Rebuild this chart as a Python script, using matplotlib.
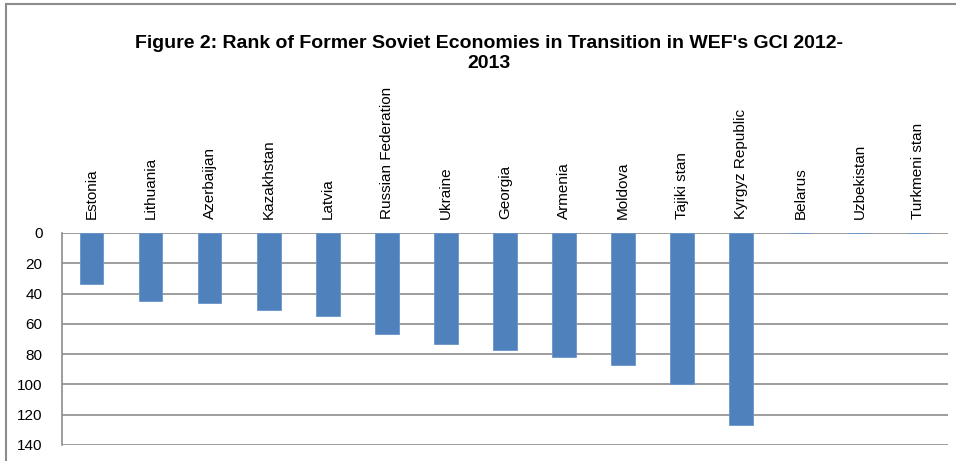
import numpy as np
import matplotlib.pyplot as plt
import matplotlib as mpl
from matplotlib.lines import Line2D

mpl.rcParams["font.family"] = ["Liberation Sans", "DejaVu Sans"]

# data
countries = ["Estonia", "Lithuania", "Azerbaijan", "Kazakhstan", "Latvia",
             "Russian Federation", "Ukraine", "Georgia", "Armenia", "Moldova",
             "Tajiki stan", "Kyrgyz Republic", "Belarus", "Uzbekistan", "Turkmeni stan"]
ranks = [34, 45, 46, 51, 55, 67, 73, 77, 82, 87, 100, 127, 0, 0, 0]

fig = plt.figure(figsize=(9.56, 4.61), dpi=100)
ax = fig.add_axes([62 / 956, 1 - 445 / 461, 886 / 956, 212 / 461])

x = np.arange(len(countries))
ax.bar(x, ranks, width=0.4, color="#4F81BD", edgecolor="#6A96CB", linewidth=0.6, zorder=3)

ax.set_xlim(-0.5, len(countries) - 0.5)
ax.set_ylim(140, 0)
ax.set_yticks(np.arange(0, 141, 20))
ax.yaxis.grid(True, color="#8c8c8c", linewidth=1.2, zorder=0)
ax.tick_params(axis="y", length=0, pad=14, labelsize=11)

ax.xaxis.tick_top()
ax.set_xticks(x)
ax.set_xticklabels(countries, rotation=90, fontsize=11)
ax.tick_params(axis="x", length=0, pad=10)

for s in ["top", "right", "bottom"]:
    ax.spines[s].set_visible(False)
ax.spines["left"].set_color("#8c8c8c")
ax.spines["left"].set_linewidth(1.2)

fig.text(0.511, 1 - 44 / 461, "Figure 2: Rank of Former Soviet Economies in Transition in WEF's GCI 2012-",
         ha="center", va="center", fontsize=14, fontweight="bold")
fig.text(0.511, 1 - 64 / 461, "2013", ha="center", va="center", fontsize=14, fontweight="bold")

# chart border
fig.add_artist(Line2D([6 / 956, 6 / 956], [0, 1 - 4 / 461], color="#8c8c8c", linewidth=1.5, transform=fig.transFigure))
fig.add_artist(Line2D([6 / 956, 1], [1 - 4 / 461, 1 - 4 / 461], color="#8c8c8c", linewidth=1.5, transform=fig.transFigure))

plt.savefig("out.png", dpi=100)
